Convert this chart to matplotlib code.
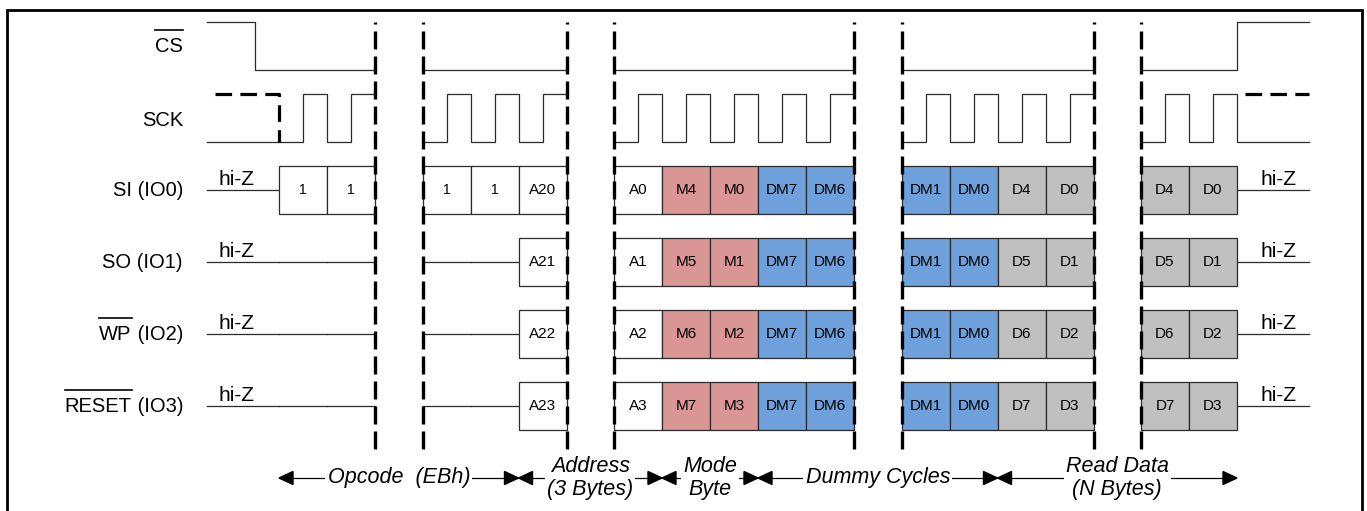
import matplotlib
matplotlib.use('Agg')
import matplotlib.pyplot as plt
from matplotlib.patches import Rectangle, Polygon

plt.rcParams['font.family'] = ['Liberation Sans', 'DejaVu Sans']

# ---------------- data ----------------
signal_bar = ["CS", "", "", "", "WP", "RESET"]          # part with overline
signal_rest = ["", "SCK", "SI (IO0)", "SO (IO1)", " (IO2)", " (IO3)"]
segment_cycles = [2, 3, 5, 4, 2]
si_cells = [["1", "1"], ["1", "1", "A20"], ["A0", "M4", "M0", "DM7", "DM6"],
            ["DM1", "DM0", "D4", "D0"], ["D4", "D0"]]
so_cells = [[None, None], [None, None, "A21"], ["A1", "M5", "M1", "DM7", "DM6"],
            ["DM1", "DM0", "D5", "D1"], ["D5", "D1"]]
wp_cells = [[None, None], [None, None, "A22"], ["A2", "M6", "M2", "DM7", "DM6"],
            ["DM1", "DM0", "D6", "D2"], ["D6", "D2"]]
reset_cells = [[None, None], [None, None, "A23"], ["A3", "M7", "M3", "DM7", "DM6"],
               ["DM1", "DM0", "D7", "D3"], ["D7", "D3"]]
hiz_label = "hi-Z"
phase_labels = ["Opcode  (EBh)", "Address\n(3 Bytes)", "Mode\nByte",
                "Dummy Cycles", "Read Data\n(N Bytes)"]
# phase boundaries as (segment, cell index)
phase_bounds = [(0, 0), (1, 2), (2, 1), (2, 3), (3, 2), (4, 2)]

# ---------------- layout ----------------
W, H = 1367, 511
X0, CW, GAP = 279, 48, 47.5
PRE_X, POST_X = 207, 1309
ROW_TOP0, PITCH, RH = 22, 72, 48
LABEL_X = 183
LINE_C = '#2a2a2a'
LW = 0.9
COL = {'M': '#DA9694', 'DM': '#6EA0DC', 'D': '#C0C0C0'}

fig = plt.figure(figsize=(W / 100, H / 100), dpi=100)
ax = fig.add_axes([0, 0, 1, 1])
ax.set_xlim(0, W)
ax.set_ylim(H, 0)
ax.axis('off')

seg_start = []
acc = X0
for i, n in enumerate(segment_cycles):
    seg_start.append(acc)
    acc += n * CW + GAP
seg_end = [s + n * CW for s, n in zip(seg_start, segment_cycles)]


def row_top(r):
    return ROW_TOP0 + r * PITCH


def cell_color(v):
    if v is None:
        return None
    if v.startswith('DM'):
        return COL['DM']
    if v.startswith('M'):
        return COL['M']
    if v.startswith('D'):
        return COL['D']
    return 'white'


# border
ax.plot([7, 7, 1362, 1362], [515, 10, 10, 515], color='black', lw=2,
        solid_joinstyle='miter', zorder=1)

# ---------------- labels ----------------
fig.canvas.draw()
renderer = fig.canvas.get_renderer()
inv = ax.transData.inverted()
for r in range(6):
    mid = row_top(r) + RH / 2 + (2 if r == 1 else 0)
    xr = LABEL_X
    if signal_rest[r]:
        t = ax.text(xr, mid, signal_rest[r], ha='right', va='center', fontsize=14.5)
        bb = t.get_window_extent(renderer)
        xr = inv.transform((bb.x0, 0))[0]
    if signal_bar[r]:
        t = ax.text(xr, mid, signal_bar[r], ha='right', va='center', fontsize=14.5)
        bb = t.get_window_extent(renderer)
        xa = inv.transform((bb.x0, 0))[0]
        xb = inv.transform((bb.x1, 0))[0]
        ax.plot([xa, xb], [mid - 15.5, mid - 15.5], color='black', lw=1.2)

# ---------------- CS ----------------
top, bot = row_top(0), row_top(0) + RH
xs = [PRE_X, X0 - CW / 2, X0 - CW / 2, seg_end[0]]
ys = [top, top, bot, bot]
ax.plot(xs, ys, color=LINE_C, lw=LW)
for i in range(1, 4):
    ax.plot([seg_start[i], seg_end[i]], [bot, bot], color=LINE_C, lw=LW)
ax.plot([seg_start[4], seg_end[4], seg_end[4], POST_X], [bot, bot, top, top],
        color=LINE_C, lw=LW)

# ---------------- SCK ----------------
top, bot = row_top(1), row_top(1) + RH
for i, n in enumerate(segment_cycles):
    xs, ys = [], []
    if i == 0:
        xs.append(PRE_X); ys.append(bot)
    for k in range(n):
        x = seg_start[i] + k * CW
        xs += [x, x + CW / 2, x + CW / 2, x + CW]
        ys += [bot, bot, top, top]
        if k < n - 1 or i == len(segment_cycles) - 1:
            xs.append(x + CW); ys.append(bot)
    if i == len(segment_cycles) - 1:
        xs.append(POST_X); ys.append(bot)
    ax.plot(xs, ys, color=LINE_C, lw=LW, solid_joinstyle='miter')
ax.plot([215, X0, X0], [top, top, bot], color='black', lw=2.3,
        linestyle=(0, (5.2, 2.6)), dash_capstyle='butt')
ax.plot([seg_end[-1] + 8, POST_X], [top, top], color='black', lw=2.3,
        linestyle=(0, (5.2, 2.6)), dash_capstyle='butt')

# ---------------- data rows ----------------
rows = [si_cells, so_cells, wp_cells, reset_cells]
for ri, cells in enumerate(rows):
    r = ri + 2
    top = row_top(r)
    mid = top + RH / 2
    ax.plot([PRE_X, X0], [mid, mid], color=LINE_C, lw=LW)
    ax.text(218, mid - 5, hiz_label, ha='left', va='baseline', fontsize=15)
    ax.plot([seg_end[-1], POST_X], [mid, mid], color=LINE_C, lw=LW)
    ax.text(1260, mid - 5, hiz_label, ha='left', va='baseline', fontsize=15)
    for si, seg in enumerate(cells):
        for k, v in enumerate(seg):
            x = seg_start[si] + k * CW
            if v is None:
                ax.plot([x, x + CW], [mid, mid], color=LINE_C, lw=LW)
            else:
                ax.add_patch(Rectangle((x, top), CW, RH, facecolor=cell_color(v),
                                       edgecolor=LINE_C, lw=LW, zorder=2))
                ax.text(x + CW / 2, mid, v, ha='center', va='center',
                        fontsize=10 if v == '1' else 11, zorder=3)

# ---------------- dashed boundaries ----------------
bounds = []
for i in range(len(segment_cycles) - 1):
    bounds += [seg_end[i], seg_start[i + 1]]
for x in bounds:
    ax.plot([x, x], [22, 455], color='black', lw=2.4,
            linestyle=(4.8, (5.4, 2.1)), dash_capstyle='butt', zorder=5)

# ---------------- phase arrows ----------------
AY, AL, AW = 478, 14, 6.5
bx = [seg_start[s] + k * CW for s, k in phase_bounds]
for i, lab in enumerate(phase_labels):
    a, b = bx[i], bx[i + 1]
    ax.plot([a + 2, b - 2], [AY, AY], color='black', lw=0.9, zorder=2)
    ax.add_patch(Polygon([(a, AY), (a + AL, AY - AW), (a + AL, AY + AW)],
                         closed=True, color='black', zorder=3))
    ax.add_patch(Polygon([(b, AY), (b - AL, AY - AW), (b - AL, AY + AW)],
                         closed=True, color='black', zorder=3))
    ax.text((a + b) / 2, AY, lab, ha='center', va='center', fontsize=15.5,
            style='italic', linespacing=1.1, zorder=4,
            bbox=dict(boxstyle='square,pad=0.1', fc='white', ec='none'))

fig.savefig('out.png', dpi=100)
